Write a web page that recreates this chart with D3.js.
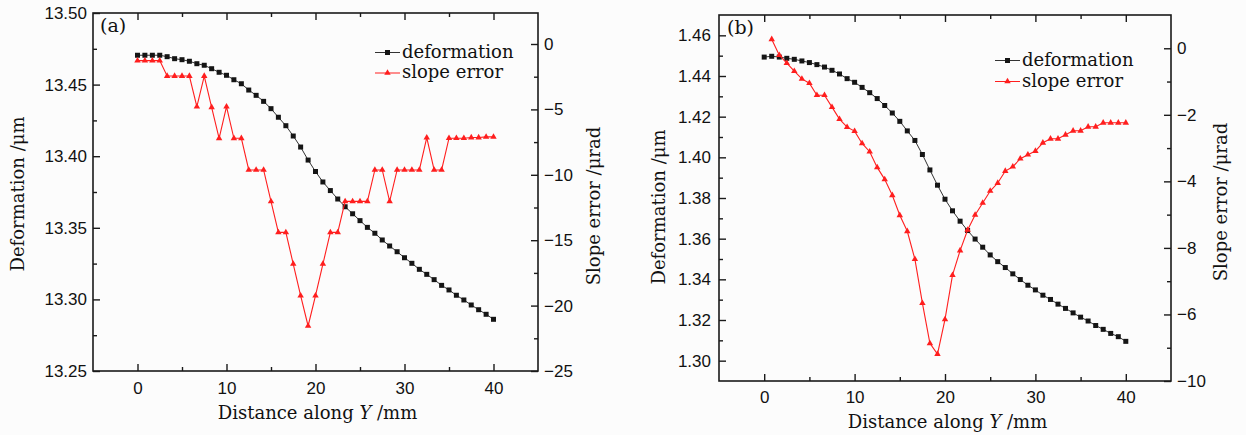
<!DOCTYPE html>
<html>
<head>
<meta charset="utf-8">
<script src="https://cdn.jsdelivr.net/npm/d3@7"></script>
<style>
  body { margin: 0; background: #fcfcfc; }
  svg { display: block; font-family: "DejaVu Serif", serif; }
  .tick text { font-size: 17px; fill: #111; }
  .tick line { stroke: #1a1a1a; stroke-width: 1.4; }
  .title { font-size: 18px; fill: #111; }
</style>
</head>
<body>
<svg id="chart" width="1246" height="435"></svg>
<script>
// distance along Y (mm), same sampling in both panels
const distance = [0, 0.83, 1.67, 2.5, 3.33, 4.17, 5, 5.83, 6.67, 7.5, 8.33, 9.17, 10, 10.83, 11.67, 12.5,
  13.33, 14.17, 15, 15.83, 16.67, 17.5, 18.33, 19.17, 20, 20.83, 21.67, 22.5, 23.33, 24.17, 25, 25.83,
  26.67, 27.5, 28.33, 29.17, 30, 30.83, 31.67, 32.5, 33.33, 34.17, 35, 35.83, 36.67, 37.5, 38.33, 39.17, 40];

// panel (a)
const deformationA = [13.4705, 13.4705, 13.4705, 13.4705, 13.4695, 13.4681, 13.4674, 13.4663, 13.4646, 13.4635,
  13.4611, 13.4586, 13.4565, 13.4534, 13.4506, 13.4462, 13.4425, 13.4383, 13.4332, 13.4272, 13.4213, 13.4141,
  13.4064, 13.3973, 13.3893, 13.3820, 13.3760, 13.3701, 13.3647, 13.3598, 13.3550, 13.3503, 13.3462, 13.3415,
  13.3373, 13.3333, 13.3291, 13.3252, 13.3210, 13.3175, 13.3138, 13.3098, 13.3066, 13.3029, 13.2996, 13.2961,
  13.2928, 13.2896, 13.2861];
const slopeA = [-1.27, -1.27, -1.27, -1.27, -2.45, -2.45, -2.45, -2.45, -4.79, -2.45, -4.84, -7.21, -4.79, -7.21,
  -7.21, -9.63, -9.63, -9.63, -12.03, -14.4, -14.4, -16.82, -19.24, -21.56, -19.24, -16.82, -14.4, -14.4, -12.03,
  -12.03, -12.03, -12.03, -9.63, -9.63, -12.03, -9.63, -9.63, -9.63, -9.63, -7.16, -9.63, -9.63, -7.2, -7.2,
  -7.2, -7.15, -7.15, -7.1, -7.1];

// panel (b), slope error starts at the second sample
const deformationB = [1.4493, 1.4497, 1.4493, 1.4487, 1.4482, 1.4474, 1.4466, 1.4456, 1.4444, 1.4428, 1.4410,
  1.4387, 1.4369, 1.4344, 1.4318, 1.4289, 1.4255, 1.4218, 1.4177, 1.4130, 1.4083, 1.4014, 1.3938, 1.3863,
  1.3794, 1.3737, 1.3686, 1.3640, 1.3598, 1.3558, 1.3520, 1.3487, 1.3458, 1.3427, 1.3399, 1.3371, 1.3348,
  1.3322, 1.3301, 1.3278, 1.3257, 1.3235, 1.3214, 1.3195, 1.3173, 1.3154, 1.3134, 1.3118, 1.3095];
const slopeB = [null, 0.27, -0.21, -0.45, -0.69, -0.92, -1.05, -1.41, -1.41, -1.77, -2.13, -2.37, -2.49, -2.86,
  -3.11, -3.58, -3.94, -4.42, -5.02, -5.5, -6.34, -7.66, -8.87, -9.19, -8.15, -6.82, -6.08, -5.46, -5.01, -4.65,
  -4.29, -4.05, -3.69, -3.56, -3.32, -3.2, -3.09, -2.84, -2.72, -2.72, -2.6, -2.48, -2.48, -2.36, -2.36, -2.24,
  -2.24, -2.24, -2.24];

// ticks
const xTicks = [0, 10, 20, 30, 40];
const xMinorTicks = [5, 15, 25, 35];
const deformationATicks = [13.25, 13.30, 13.35, 13.40, 13.45, 13.50];
const deformationAMinor = [13.275, 13.325, 13.375, 13.425, 13.475];
const slopeATicks = [-25, -20, -15, -10, -5, 0];
const slopeAMinor = [-22.5, -17.5, -12.5, -7.5, -2.5];
const deformationBTicks = [1.30, 1.32, 1.34, 1.36, 1.38, 1.40, 1.42, 1.44, 1.46];
const deformationBMinor = [1.31, 1.33, 1.35, 1.37, 1.39, 1.41, 1.43, 1.45];
const slopeBTicks = [-10, -8, -6, -4, -2, 0];
const slopeBTickLabels = ['\u221210', '\u22126', '\u22128', '\u22124', '\u22122', '0'];  // as printed in the figure
const slopeBMinor = [-9, -7, -5, -3, -1];

const seriesNames = ['deformation', 'slope error'];
const black = '#151515';
const red = '#ff1e1e';

const svg = d3.select('#chart');

function addAxis(g, axis, transform) {
  const a = g.append('g').attr('transform', transform).call(axis);
  a.select('.domain').remove();
  return a;
}

function drawPanel(p) {
  const g = svg.append('g');
  const x = d3.scaleLinear().domain([-5, 45]).range([p.x0, p.x1]);
  const yL = d3.scaleLinear().domain(p.leftDomain).range([p.y1, p.y0]);
  const yR = d3.scaleLinear().domain(p.rightDomain).range([p.y1, p.y0]);

  // minor ticks
  addAxis(g, d3.axisBottom(x).tickValues(xMinorTicks).tickSize(-4).tickFormat(''), `translate(0,${p.y1})`);
  addAxis(g, d3.axisTop(x).tickValues(xMinorTicks).tickSize(-4).tickFormat(''), `translate(0,${p.y0})`);
  addAxis(g, d3.axisLeft(yL).tickValues(p.leftMinor).tickSize(-4).tickFormat(''), `translate(${p.x0},0)`);
  addAxis(g, d3.axisRight(yR).tickValues(p.rightMinor).tickSize(-4).tickFormat(''), `translate(${p.x1},0)`);

  // major ticks
  const bottom = addAxis(g, d3.axisBottom(x).tickValues(xTicks).tickSize(-7).tickFormat(d3.format('d')), `translate(0,${p.y1})`);
  bottom.selectAll('text').attr('y', p.xLabelY).attr('dy', 0);
  addAxis(g, d3.axisTop(x).tickValues(xTicks).tickSize(-7).tickFormat(''), `translate(0,${p.y0})`);
  addAxis(g, d3.axisLeft(yL).tickValues(p.leftTicks).tickSize(-7).tickPadding(p.leftPad).tickFormat(d3.format('.2f')), `translate(${p.x0},0)`);
  addAxis(g, d3.axisRight(yR).tickValues(p.rightTicks).tickSize(-7).tickPadding(6).tickFormat(p.rightFormat), `translate(${p.x1},0)`);

  g.append('rect')
    .attr('x', p.x0).attr('y', p.y0)
    .attr('width', p.x1 - p.x0).attr('height', p.y1 - p.y0)
    .attr('fill', 'none').attr('stroke', '#1a1a1a').attr('stroke-width', 1.6);

  const defPts = distance.map((d, i) => [d, p.deformation[i]]);
  const slopePts = distance.map((d, i) => [d, p.slope[i]]).filter((d) => d[1] != null);

  g.append('path')
    .attr('d', d3.line().x((d) => x(d[0])).y((d) => yL(d[1]))(defPts))
    .attr('fill', 'none').attr('stroke', '#333').attr('stroke-width', 1);
  g.selectAll('path.sq').data(defPts).enter().append('path').attr('class', 'sq')
    .attr('transform', (d) => `translate(${x(d[0])},${yL(d[1])})`)
    .attr('d', d3.symbol(d3.symbolSquare, 25)).attr('fill', black);

  g.append('path')
    .attr('d', d3.line().x((d) => x(d[0])).y((d) => yR(d[1]))(slopePts))
    .attr('fill', 'none').attr('stroke', red).attr('stroke-width', 1.1);
  g.selectAll('path.tri').data(slopePts).enter().append('path').attr('class', 'tri')
    .attr('transform', (d) => `translate(${x(d[0])},${yR(d[1])})`)
    .attr('d', d3.symbol(d3.symbolTriangle, 18)).attr('fill', red);

  // legend
  const lg = g.append('g');
  [[black, '#333', d3.symbolSquare, 25], [red, red, d3.symbolTriangle, 18]].forEach(([fill, stroke, sym, size], i) => {
    const ly = p.legendY[i];
    lg.append('line').attr('x1', p.legendX).attr('x2', p.legendX + 25).attr('y1', ly).attr('y2', ly)
      .attr('stroke', stroke).attr('stroke-width', 1);
    lg.append('path').attr('transform', `translate(${p.legendX + 12.5},${ly})`)
      .attr('d', d3.symbol(sym, size)).attr('fill', fill);
    lg.append('text').attr('class', 'title').attr('x', p.legendX + 27).attr('y', ly + 5.3).text(seriesNames[i]);
  });

  g.append('text').attr('class', 'title').attr('x', p.tagX).attr('y', p.tagY).style('font-size', '19px').text(p.tag);

  g.append('text').attr('class', 'title').attr('text-anchor', 'middle')
    .attr('transform', `translate(${p.leftTitle[0]},${p.leftTitle[1]}) rotate(-90)`)
    .text('Deformation /\u03bcm');
  g.append('text').attr('class', 'title').attr('text-anchor', 'middle')
    .attr('transform', `translate(${p.rightTitle[0]},${p.rightTitle[1]}) rotate(-90)`)
    .text('Slope error /\u03bcrad');

  const xt = g.append('text').attr('class', 'title').attr('text-anchor', 'middle')
    .attr('x', p.xTitle[0]).attr('y', p.xTitle[1]);
  xt.append('tspan').text('Distance along ');
  xt.append('tspan').style('font-style', 'italic').text('Y');
  xt.append('tspan').text(' /mm');
}

drawPanel({
  x0: 93, x1: 538, y0: 13, y1: 371,
  leftDomain: [13.25, 13.50], rightDomain: [-25, 2.37],
  leftTicks: deformationATicks, leftMinor: deformationAMinor, leftPad: 6,
  rightTicks: slopeATicks, rightMinor: slopeAMinor, rightFormat: d3.format('d'),
  deformation: deformationA, slope: slopeA,
  xLabelY: 23,
  legendX: 375, legendY: [52.5, 73],
  tag: '(a)', tagX: 100, tagY: 32,
  leftTitle: [24, 194], rightTitle: [600, 206], xTitle: [317.5, 419],
});

drawPanel({
  x0: 719, x1: 1171, y0: 15, y1: 381,
  leftDomain: [1.29, 1.47], rightDomain: [-10, 1],
  leftTicks: deformationBTicks, leftMinor: deformationBMinor, leftPad: 8,
  rightTicks: slopeBTicks, rightMinor: slopeBMinor,
  rightFormat: (d) => slopeBTickLabels[slopeBTicks.indexOf(d)],
  deformation: deformationB, slope: slopeB,
  xLabelY: 22,
  legendX: 995, legendY: [60.5, 81.5],
  tag: '(b)', tagX: 727, tagY: 34,
  leftTitle: [665, 207], rightTitle: [1227, 202], xTitle: [947.5, 428],
});
</script>
</body>
</html>
